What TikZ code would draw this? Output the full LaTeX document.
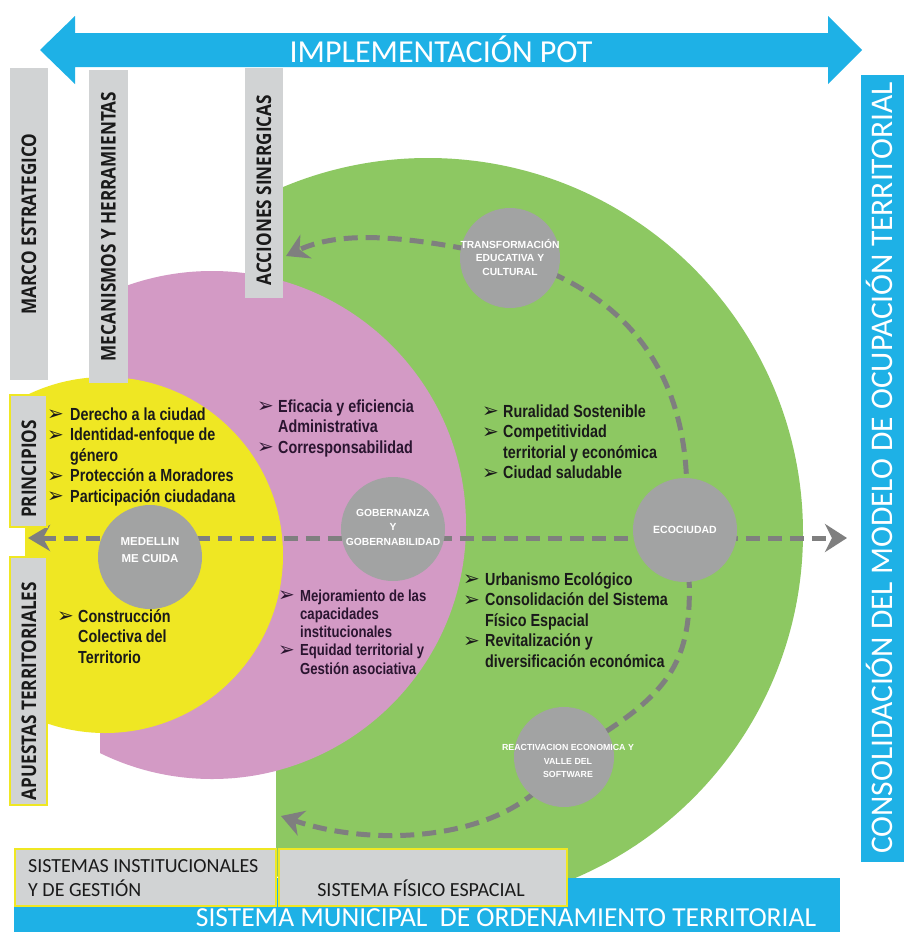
\documentclass[tikz,border=0pt]{standalone}
\usepackage{fontspec}
\usetikzlibrary{arrows.meta}
\setmainfont{Liberation Sans}
\newfontfamily\calfont{Carlito}
\newfontfamily\labfont[FakeStretch=0.85]{Open Sans}
\newfontfamily\narrowb[FakeStretch=0.82]{Liberation Sans}
\newfontfamily\dejavu{DejaVu Sans}
\definecolor{blu}{HTML}{1EB1E6}
\definecolor{boxgray}{HTML}{D1D3D4}
\definecolor{grn}{HTML}{8DC862}
\definecolor{pnk}{HTML}{D39AC5}
\definecolor{yel}{HTML}{EFE723}
\definecolor{cgray}{HTML}{A2A3A3}
\definecolor{dgray}{HTML}{7F7F7F}
\definecolor{txt}{HTML}{1A1A1A}
\definecolor{ptxt}{HTML}{2A1530}
\newcommand\bl{\makebox[21pt][l]{\raisebox{-0.5pt}{\dejavu\mdseries\fontsize{20}{20}\selectfont ➢}}}
\tikzset{
  gbox/.style={fill=boxgray, inner sep=0pt, text=txt, font={\labfont\bfseries\fontsize{20.2}{20}\selectfont}},
  ybox/.style={fill=boxgray, draw=yel, line width=1.5pt, inner sep=0pt},
  gc/.style={circle, fill=cgray, minimum size=104pt, inner sep=0pt},
  ctext/.style={text=white, align=center, inner sep=0pt},
  dl/.style={draw=dgray, line width=5pt, dash pattern=on 14pt off 8pt},
  tipS/.style={-{Stealth[length=22pt,width=26pt,inset=7pt]}},
  blist/.style={anchor=base west, inner sep=0pt, text=txt, font={\narrowb\bfseries\fontsize{17.5}{20.5}\selectfont}},
  calw/.style={text=white, inner sep=0pt, font={\calfont\fontsize{#1}{#1}\selectfont}},
  calk/.style={text=txt, inner sep=0pt, font={\calfont\fontsize{20}{23}\selectfont}},
}
\begin{document}
\begin{tikzpicture}[x=1pt,y=-1pt]
\useasboundingbox (0,0) rectangle (904,932);
\fill[white] (0,0) rectangle (904,932);
% big circles
\begin{scope}
  \clip (276,0) rectangle (904,932);
  \fill[grn] (428,533) circle[radius=375];
\end{scope}
\begin{scope}
  \clip (100,0) rectangle (904,932);
  \fill[pnk] (212,525) circle[radius=254];
\end{scope}
\begin{scope}
  \clip (25,0) rectangle (904,932);
  \fill[yel] (105,555) circle[radius=178];
\end{scope}
% top arrow
\fill[blu] (40,50) -- (75,16) -- (75,33) -- (828,33) -- (828,16) -- (862,50)
  -- (828,84) -- (828,67) -- (75,67) -- (75,84) -- cycle;
\node[calw=32, anchor=base] (impl) at (441,62) {IMPLEMENTACIÓN POT};
% right bar
\node[fill=blu, inner sep=0pt, minimum width=43pt, minimum height=787pt, anchor=north west] (rbar) at (861,75) {};
\node[calw=31.5, anchor=base, rotate=90] (rtext) at (892,468) {CONSOLIDACIÓN DEL MODELO DE OCUPACIÓN TERRITORIAL};
% bottom bar
\node[fill=blu, inner sep=0pt, minimum width=826pt, minimum height=54pt, anchor=north west] (bbar) at (14,878) {};
% bottom boxes
\node[ybox, minimum width=261pt, minimum height=57pt, anchor=north west] (sig) at (14,848) {};
\node[ybox, minimum width=288pt, minimum height=57pt, anchor=north west] (sfe) at (278,848) {};
\node[calk, anchor=base west] (sigt1) at (28,872) {SISTEMAS INSTITUCIONALES};
\node[calk, anchor=base west] (sigt2) at (28,896) {Y DE GESTIÓN};
\node[calk, anchor=base] (sfet) at (421,896) {SISTEMA FÍSICO ESPACIAL};
\node[calw=27.5, anchor=base] (btext) at (506,926.5) {SISTEMA MUNICIPAL\ \ DE ORDENAMIENTO TERRITORIAL};
% circle centres
\coordinate (trc) at (510,258);
\coordinate (ecoc) at (685,530);
\coordinate (gobc) at (393,529);
\coordinate (medc) at (150,557);
\coordinate (reac) at (564,757);
\coordinate (acctip) at (286,256);
\coordinate (bottip) at (281,816);
\coordinate (hl) at (28,538);
\coordinate (hr) at (847,538);
% dashed connectors
\draw[dl, {Stealth[length=22pt,width=26pt,inset=7pt]}-{Stealth[length=22pt,width=28pt,inset=7pt]}] (hl) -- (hr);
\draw[dl, tipS] (trc) .. controls (420,238) and (345,228) .. (acctip);
\draw[dl] (trc) .. controls (620,290) and (700,370) .. (ecoc);
\draw[dl] (ecoc) .. controls (700,660) and (680,690) .. (reac);
\draw[dl, tipS] (reac) .. controls (520,840) and (380,850) .. (bottip);
% grey circles
\node[gc, minimum size=100pt] (tr) at (trc) {};
\node[ctext, font={\bfseries\fontsize{10.3}{13.5}\selectfont}] (trt) at (510,257) {TRANSFORMACIÓN\\EDUCATIVA Y\\CULTURAL};
\node[gc] (eco) at (ecoc) {};
\node[ctext, font={\bfseries\fontsize{10.5}{14}\selectfont}] (ecot) at (ecoc) {ECOCIUDAD};
\node[gc] (gob) at (gobc) {};
\node[ctext, font={\bfseries\fontsize{10.3}{14.5}\selectfont}] (gobt) at (393,527) {GOBERNANZA\\Y\\GOBERNABILIDAD};
\node[gc] (med) at (medc) {};
\node[ctext, font={\bfseries\fontsize{11.5}{17}\selectfont}] (medt) at (150,550) {MEDELLIN\\ME CUIDA};
\node[gc, minimum size=100pt] (rea) at (reac) {};
\node[ctext, font={\bfseries\fontsize{8.8}{13.5}\selectfont}] (reat) at (568,761) {REACTIVACION ECONOMICA Y\\VALLE DEL\\SOFTWARE};
% grey label boxes
\node[gbox, rotate=90, minimum width=312pt, minimum height=38pt] (marco) at (29,224) {MARCO ESTRATEGICO};
\node[gbox, rotate=90, minimum width=313pt, minimum height=39pt] (meca) at (108.5,226.5) {MECANISMOS Y HERRAMIENTAS};
\node[gbox, rotate=90, minimum width=230pt, minimum height=38pt] (acc) at (264,183) {};
\node[gbox, rotate=90, fill=none] (acct) at (264,190) {ACCIONES SINERGICAS};
\node[ybox, minimum width=37pt, minimum height=132pt] (prin) at (28.5,461) {};
\node[gbox, rotate=90, fill=none] (print) at (29,469) {PRINCIPIOS};
\node[ybox, minimum width=37pt, minimum height=248pt] (apu) at (28.5,681) {};
\node[gbox, rotate=90, fill=none] (aput) at (29,691) {APUESTAS TERRITORIALES};
% bullet lists
\node[blist] (ytop) at (47,420) {\begin{tabular}[t]{@{}l@{}l@{}}
\makebox[23pt][l]{\bl}& Derecho a la ciudad\\
\makebox[23pt][l]{\bl}& Identidad-enfoque de\\
& género\\
\makebox[23pt][l]{\bl}& Protección a Moradores\\
\makebox[23pt][l]{\bl}& Participación ciudadana
\end{tabular}};
\node[blist] (ybot) at (57,622) {\begin{tabular}[t]{@{}l@{}l@{}}
\bl& Construcción\\
& Colectiva del\\
& Territorio
\end{tabular}};
\node[blist, text=ptxt] (ptop) at (257,412) {\begin{tabular}[t]{@{}l@{}l@{}}
\bl& Eficacia y eficiencia\\
& Administrativa\\
\bl& Corresponsabilidad
\end{tabular}};
\node[blist, text=ptxt, font={\narrowb\bfseries\fontsize{16}{18.3}\selectfont}] (pbot) at (278,601) {\begin{tabular}[t]{@{}l@{}l@{}}
\makebox[22pt][l]{\bl}& Mejoramiento de las\\
& capacidades\\
& institucionales\\
\makebox[22pt][l]{\bl}& Equidad territorial y\\
& Gestión asociativa
\end{tabular}};
\node[blist] (gtop) at (482,417) {\begin{tabular}[t]{@{}l@{}l@{}}
\bl& Ruralidad Sostenible\\
\bl& Competitividad\\
& territorial y económica\\
\bl& Ciudad saludable
\end{tabular}};
\node[blist] (gbot) at (463,585) {\begin{tabular}[t]{@{}l@{}l@{}}
\makebox[22pt][l]{\bl}& Urbanismo Ecológico\\
\makebox[22pt][l]{\bl}& Consolidación del Sistema\\
& Físico Espacial\\
\makebox[22pt][l]{\bl}& Revitalización y\\
& diversificación económica
\end{tabular}};
\end{tikzpicture}
\end{document}
